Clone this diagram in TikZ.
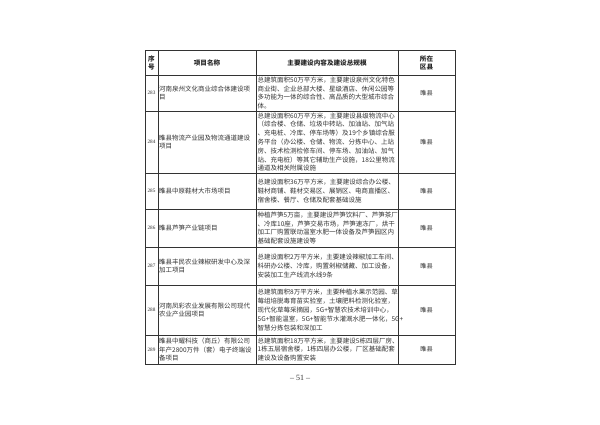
\documentclass[tikz,border=0pt]{standalone}
\usepackage{fontspec}
\newfontfamily\cjk{Noto Sans CJK SC}
\setmainfont{Liberation Serif}
\begin{document}
\begin{tikzpicture}[x=1pt,y=-1pt,
  grid/.style={draw=black!80,line width=0.9pt},
  hd/.style={font=\cjk\fontsize{6.6}{8}\selectfont\bfseries,text=black!85,align=center,inner sep=0},
  num/.style={font=\fontsize{5.2}{6}\selectfont,text=black!80,inner sep=0},
  nm/.style={font=\cjk\fontsize{6.5}{8.8}\selectfont,text=black!80,align=left,anchor=west,inner sep=0},
  ct/.style={font=\cjk\fontsize{6.5}{8.8}\selectfont,text=black!80,align=left,anchor=west,inner sep=0},
  cty/.style={font=\cjk\fontsize{6.2}{8}\selectfont,text=black!80,inner sep=0}]
\useasboundingbox (0,0) rectangle (600,424);
\fill[white] (0,0) rectangle (600,424);
% grid
\draw[grid] (145,50) rectangle (455,364);
\foreach \yy in {75,111,173,209,247,285,335}{\draw[grid] (145,\yy) -- (455,\yy);}
\foreach \xx in {158,256,398}{\draw[grid] (\xx,50) -- (\xx,364);}
% header
\node[hd] (h1) at (151.5,62.5) {序\\号};
\node[hd] (h2) at (207,62.5) {项目名称};
\node[hd] (h3) at (327,62.5) {主要建设内容及建设总规模};
\node[hd] (h4) at (426.5,62.5) {所在\\区县};
% rows: centers 93,142,191,228,266,310,349.5
\node[num] (n1) at (151.5,93) {283};
\node[nm] (p1) at (159,93) {河南泉州文化商业综合体建设项\\目};
\node[ct] (c1) at (257.5,93) {总建筑面积50万平方米，主要建设泉州文化特色\\商业街、企业总部大楼、星级酒店、休闲公园等\\多功能为一体的综合性、高品质的大型城市综合\\体。};
\node[cty] (r1) at (426.5,93) {睢县};
\node[num] (n2) at (151.5,142) {284};
\node[nm] (p2) at (159,142) {睢县物流产业园及物流通道建设\\项目};
\node[ct] (c2) at (257.5,142) {总建设面积60万平方米，主要建设县级物流中心\\（综合楼、仓储、垃圾中转站、加油站、加气站\\、充电桩、冷库、停车场等）及19个乡镇综合服\\务平台（办公楼、仓储、物流、分拣中心、上站\\房、技术检测检修车间、停车场、加油站、加气\\站、充电桩）等其它辅助生产设施，18公里物流\\通道及相关附属设施};
\node[cty] (r2) at (426.5,142) {睢县};
\node[num] (n3) at (151.5,191) {285};
\node[nm] (p3) at (159,191) {睢县中原鞋材大市场项目};
\node[ct] (c3) at (257.5,191) {总建设面积36万平方米，主要建设综合办公楼、\\鞋材商铺、鞋材交易区、展销区、电商直播区、\\宿舍楼、餐厅、仓储及配套基础设施};
\node[cty] (r3) at (426.5,191) {睢县};
\node[num] (n4) at (151.5,228) {286};
\node[nm] (p4) at (159,228) {睢县芦笋产业链项目};
\node[ct] (c4) at (257.5,228) {种植芦笋5万亩，主要建设芦笋饮料厂、芦笋茶厂\\、冷库10座，芦笋交易市场，芦笋速冻厂，烘干\\加工厂购置联动温室水肥一体设备及芦笋园区内\\基础配套设施建设等};
\node[cty] (r4) at (426.5,228) {睢县};
\node[num] (n5) at (151.5,266) {287};
\node[nm] (p5) at (159,266) {睢县丰民农业辣椒研发中心及深\\加工项目};
\node[ct] (c5) at (257.5,266) {总建设面积2万平方米，主要建设辣椒加工车间、\\科研办公楼、冷库，购置剁椒储藏、加工设备，\\安装加工生产线流水线9条};
\node[cty] (r5) at (426.5,266) {睢县};
\node[num] (n6) at (151.5,310) {288};
\node[nm] (p6) at (159,310) {河南凤彩农业发展有限公司现代\\农业产业园项目};
\node[ct] (c6) at (257.5,310) {总建筑面积8万平方米，主要种植水果示范园、草\\莓组培脱毒育苗实验室，土壤肥料检测化验室，\\现代化草莓采摘园，5G+智慧农技术培训中心，\\5G+智能温室，5G+智能节水灌溉水肥一体化，5G+\\智慧分拣包装和深加工};
\node[cty] (r6) at (426.5,310) {睢县};
\node[num] (n7) at (151.5,349.5) {289};
\node[nm] (p7) at (159,349.5) {睢县中耀科技（商丘）有限公司\\年产2800万件（套）电子终端设\\备项目};
\node[ct] (c7) at (257.5,349.5) {总建筑面积18万平方米，主要建设5栋四层厂房、\\1栋五层宿舍楼，1栋四层办公楼，厂区基础配套\\建设及设备购置安装};
\node[cty] (r7) at (426.5,349.5) {睢县};
\node[font=\fontsize{8}{9}\selectfont,text=black!80] (pg) at (300,378) {– 51 –};
\end{tikzpicture}
\end{document}
